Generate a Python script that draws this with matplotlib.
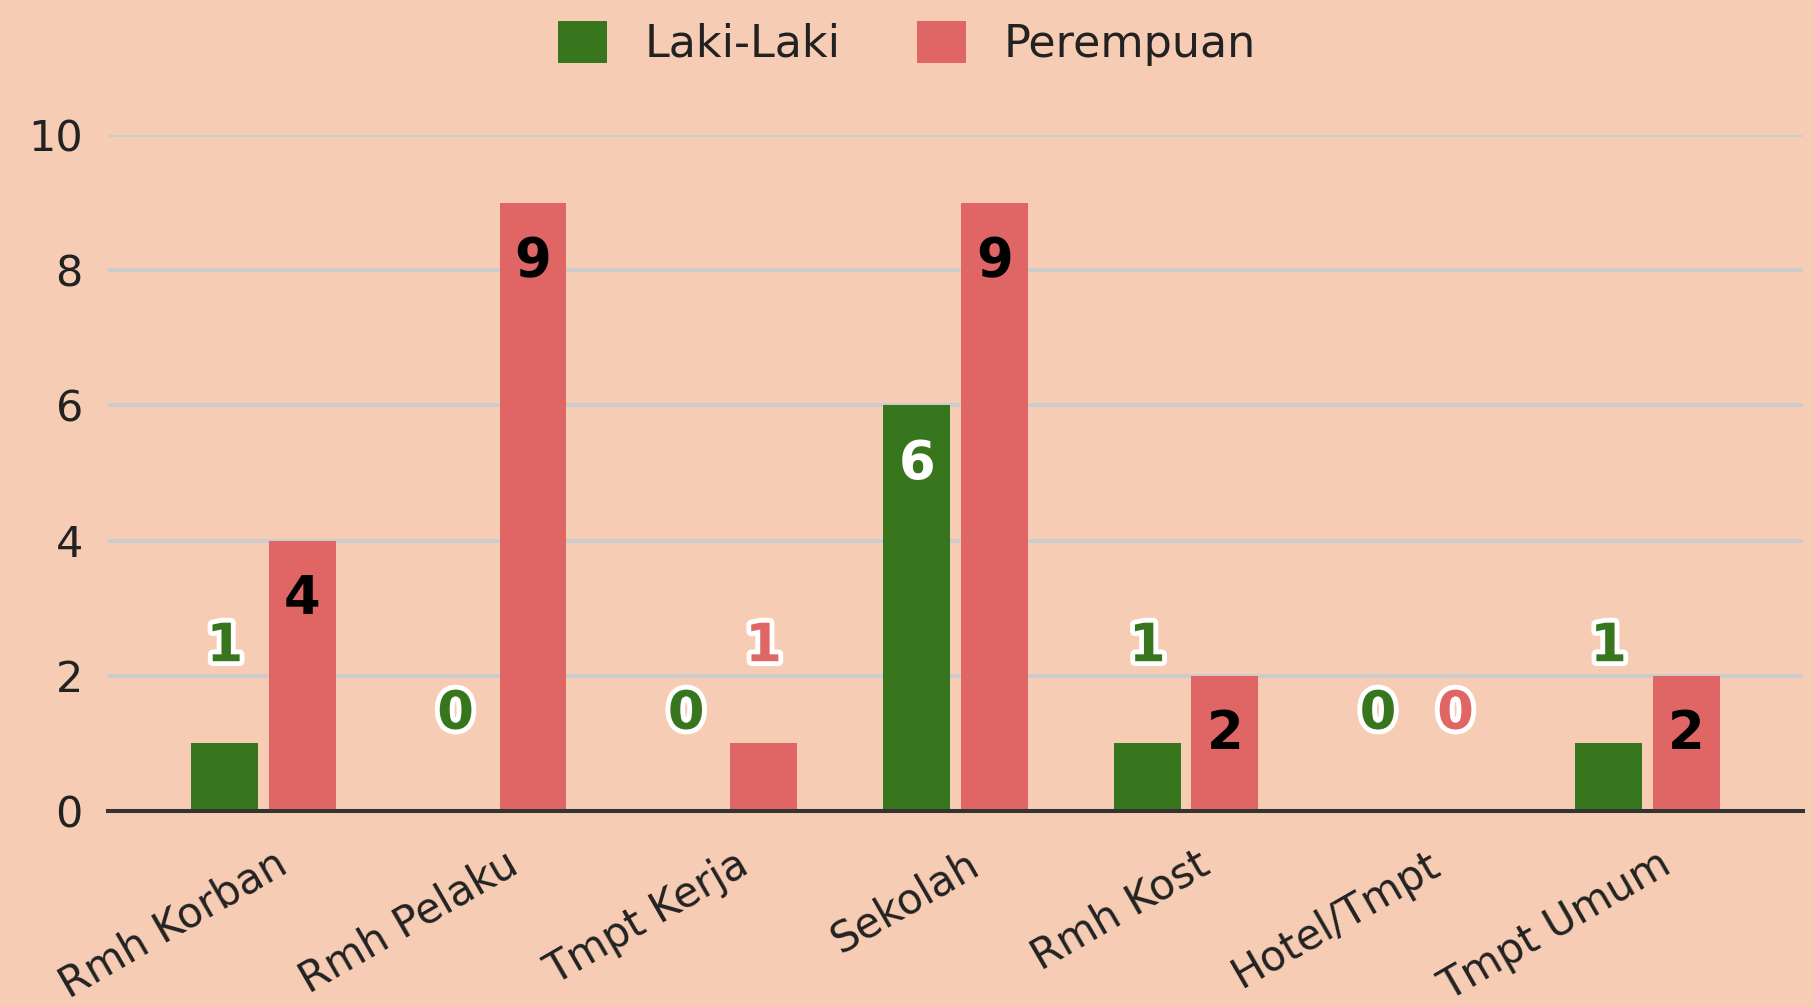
import matplotlib
matplotlib.use('Agg')
import matplotlib.pyplot as plt
import matplotlib.patheffects as pe
from matplotlib.transforms import ScaledTranslation
import numpy as np

# data
categories = ['Rmh Korban', 'Rmh Pelaku', 'Tmpt Kerja', 'Sekolah', 'Rmh Kost', 'Hotel/Tmpt', 'Tmpt Umum']
laki_laki = [1, 0, 0, 6, 1, 0, 1]
perempuan = [4, 9, 1, 9, 2, 0, 2]
series_names = ['Laki-Laki', 'Perempuan']

GREEN = '#38761d'
RED = '#e06666'
BG = '#f6cdb4'

fig = plt.figure(figsize=(18.14, 10.06), dpi=100, facecolor=BG)
ax = fig.add_axes([108 / 1814, 195 / 1006, (1803 - 108) / 1814, (811 - 135) / 1006])
ax.set_facecolor(BG)

x = np.arange(len(categories))
w = 0.29
off = 0.168
bars_l = ax.bar(x - off, laki_laki, w, color=GREEN, label=series_names[0], zorder=3)
bars_p = ax.bar(x + off, perempuan, w, color=RED, label=series_names[1], zorder=3)

ax.set_xlim(-0.675, len(categories) - 1 + 0.675)
ax.set_ylim(0, 10)
ax.set_yticks([0, 2, 4, 6, 8, 10])
ax.grid(axis='y', color='#cccccc', linewidth=2.9, zorder=0)
ax.set_axisbelow(True)
for s in ['top', 'right', 'left']:
    ax.spines[s].set_visible(False)
ax.spines['bottom'].set_color('#333333')
ax.spines['bottom'].set_linewidth(2.9)
ax.spines['bottom'].set_zorder(4)

ax.tick_params(axis='y', length=0, labelsize=31, labelcolor='#222222', pad=18)
ax.tick_params(axis='x', length=0, labelsize=30, labelcolor='#222222', pad=36)
ax.set_xticks(x)
ax.set_xticklabels(categories, rotation=30, ha='right', va='center', rotation_mode='anchor')
shift = ScaledTranslation(20 / 100, 0, fig.dpi_scale_trans)
for lbl in ax.get_xticklabels():
    lbl.set_transform(lbl.get_transform() + shift)

# value labels: inside the bar when tall enough, above it otherwise
def label_bars(bars, vals, color, inside_color):
    for b, v in zip(bars, vals):
        cx = b.get_x() + b.get_width() / 2
        if v >= 2:
            ax.annotate(str(v), (cx, v), xytext=(0, -42), textcoords='offset points',
                        ha='center', va='center', fontsize=38, fontweight='bold',
                        color=inside_color, zorder=5)
        else:
            ax.annotate(str(v), (cx, v), xytext=(0, 70), textcoords='offset points',
                        ha='center', va='center', fontsize=38, fontweight='bold',
                        color=color, zorder=5,
                        path_effects=[pe.withStroke(linewidth=7, foreground='white')])

label_bars(bars_l, laki_laki, GREEN, 'white')
label_bars(bars_p, perempuan, RED, 'black')

fig.legend(loc='center', bbox_to_anchor=(0.5, 0.957), ncol=2, frameon=False,
           fontsize=32, handlelength=1.1, handleheight=1.1, columnspacing=1.7,
           handletextpad=0.85, labelcolor='#222222')

fig.savefig('out.png', dpi=100, facecolor=BG)
